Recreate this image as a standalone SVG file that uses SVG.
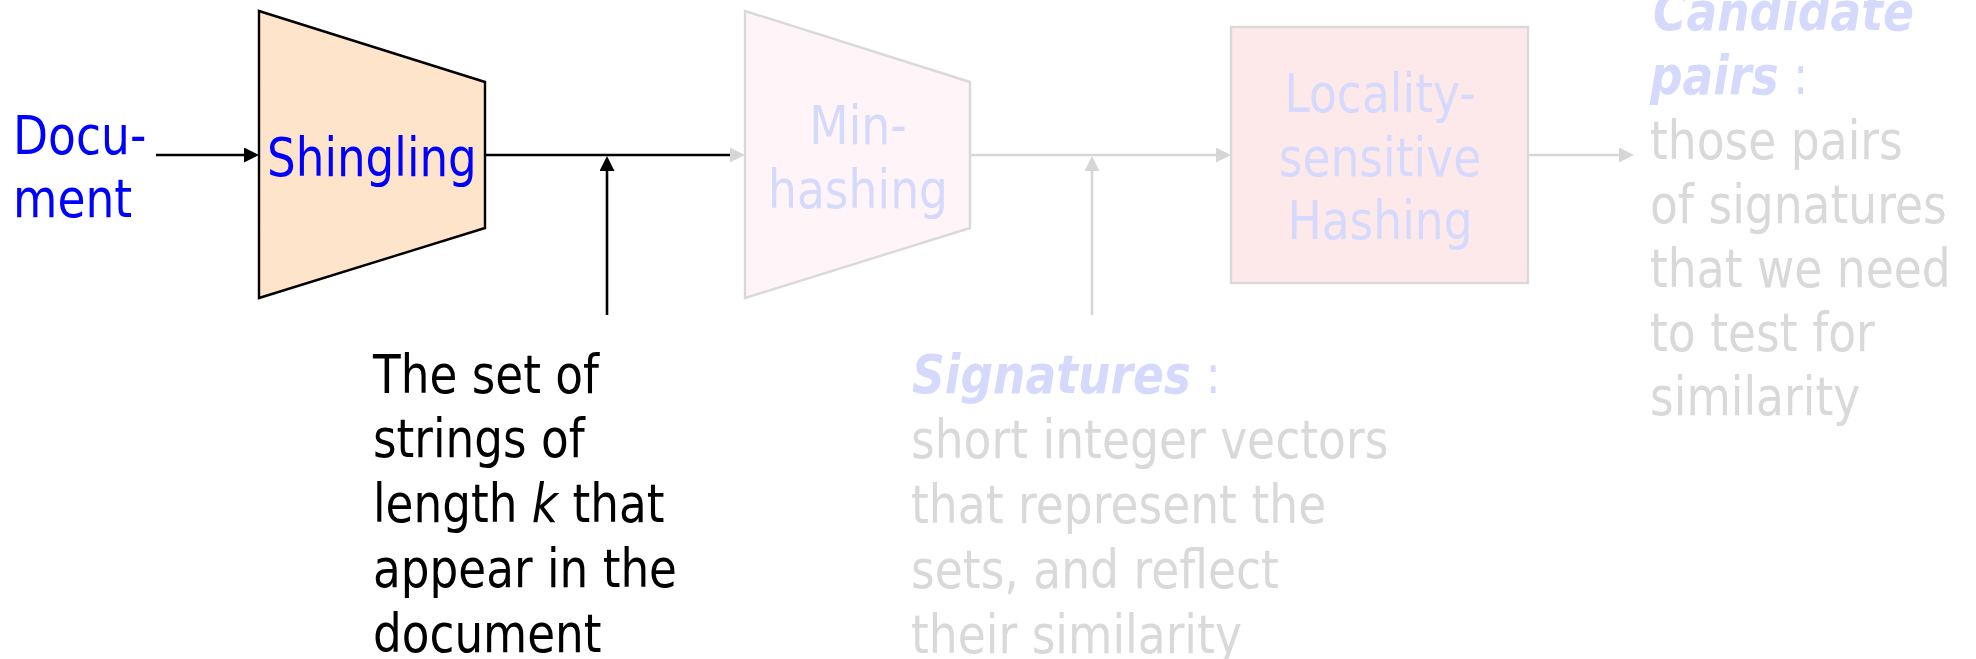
<svg xmlns="http://www.w3.org/2000/svg" width="1976" height="659" viewBox="0 0 1976 659">
  <style>
    text { font-family: "DejaVu Sans", Verdana, sans-serif; font-size: 53px; }
    .blue { fill: #0000ff; }
    .black { fill: #000000; }
    .lav { fill: #d5dafc; }
    .grey { fill: #d9d9d9; }
    .bi { font-weight: bold; font-style: italic; }
    .mid { text-anchor: middle; }
    .wire { fill: none; stroke-width: 2.6; }
    .wire-k { stroke: #000000; }
    .wire-g { stroke: #d6d6d6; }
  </style>
  <defs>
    <!-- arrowheads start where the line stops, tip 15px beyond -->
    <marker id="head-k" markerUnits="userSpaceOnUse" markerWidth="16" markerHeight="16" refX="0" refY="7.5" orient="auto">
      <path d="M0,0 L15,7.5 L0,15 Z" fill="#000000"/>
    </marker>
    <marker id="head-g" markerUnits="userSpaceOnUse" markerWidth="16" markerHeight="16" refX="0" refY="7.5" orient="auto">
      <path d="M0,0 L15,7.5 L0,15 Z" fill="#d6d6d6"/>
    </marker>
  </defs>

  <rect width="1976" height="659" fill="#ffffff"/>

  <!-- connectors -->
  <g id="connectors">
    <path class="wire wire-k" d="M156,155 H244" marker-end="url(#head-k)"/>
    <path class="wire wire-k" d="M485,155 H730" marker-end="url(#head-g)"/>
    <path class="wire wire-k" d="M607,315 V171" marker-end="url(#head-k)"/>
    <path class="wire wire-g" d="M970,155 H1216" marker-end="url(#head-g)"/>
    <path class="wire wire-g" d="M1092,315 V171" marker-end="url(#head-g)"/>
    <path class="wire wire-g" d="M1528,155 H1619" marker-end="url(#head-g)"/>
  </g>

  <!-- text lines are set in a slightly narrowed sans: translate(x,baseline) scale(0.86,1) -->

  <!-- input -->
  <g id="document">
    <text class="blue" transform="translate(13,154) scale(0.86,1)">Docu-</text>
    <text class="blue" transform="translate(13,217) scale(0.86,1)">ment</text>
  </g>

  <!-- stage 1 -->
  <g id="shingling">
    <polygon points="259,11 485,82 485,228 259,298" fill="#fee4ca" stroke="#000000" stroke-width="2.4"/>
    <text class="blue" transform="translate(267,176) scale(0.86,1)" textLength="244" lengthAdjust="spacingAndGlyphs">Shingling</text>
  </g>

  <!-- stage 2 -->
  <g id="minhashing">
    <polygon points="745,11 970,82 970,228 745,298" fill="#fff4f7" stroke="#d9d9d9" stroke-width="2.4"/>
    <text class="lav mid" transform="translate(858,144) scale(0.86,1)">Min-</text>
    <text class="lav mid" transform="translate(858,208) scale(0.86,1)">hashing</text>
  </g>

  <!-- stage 3 -->
  <g id="lsh">
    <rect x="1231" y="27" width="297" height="256" fill="#fde8ea" stroke="#d9d9d9" stroke-width="2.4"/>
    <text class="lav mid" transform="translate(1380,112) scale(0.86,1)">Locality-</text>
    <text class="lav mid" transform="translate(1380,176) scale(0.86,1)">sensitive</text>
    <text class="lav mid" transform="translate(1380,239) scale(0.86,1)">Hashing</text>
  </g>

  <!-- output -->
  <g id="candidates">
    <text class="lav bi" transform="translate(1653,30) scale(0.86,1)">Candidate</text>
    <text class="lav" transform="translate(1650,94) scale(0.86,1)"><tspan class="bi">pairs</tspan> :</text>
    <text class="grey" transform="translate(1650,159) scale(0.86,1)">those pairs</text>
    <text class="grey" transform="translate(1650,223) scale(0.86,1)">of signatures</text>
    <text class="grey" transform="translate(1650,287) scale(0.86,1)">that we need</text>
    <text class="grey" transform="translate(1650,351) scale(0.86,1)">to test for</text>
    <text class="grey" transform="translate(1650,415) scale(0.86,1)">similarity</text>
  </g>

  <!-- annotation under the shingling output -->
  <g id="shingles-note">
    <text class="black" transform="translate(373,393) scale(0.855,1)">The set of</text>
    <text class="black" transform="translate(373,457) scale(0.855,1)">strings of</text>
    <text class="black" transform="translate(373,522) scale(0.855,1)">length <tspan font-style="italic">k</tspan> that</text>
    <text class="black" transform="translate(373,587) scale(0.855,1)">appear in the</text>
    <text class="black" transform="translate(373,652) scale(0.855,1)">document</text>
  </g>

  <!-- annotation under the min-hashing output -->
  <g id="signatures-note">
    <text class="lav" transform="translate(912,393) scale(0.86,1)"><tspan class="bi">Signatures</tspan> :</text>
    <text class="grey" transform="translate(911,458) scale(0.86,1)">short integer vectors</text>
    <text class="grey" transform="translate(911,523) scale(0.86,1)">that represent the</text>
    <text class="grey" transform="translate(911,588) scale(0.86,1)">sets, and reflect</text>
    <text class="grey" transform="translate(911,653) scale(0.86,1)">their similarity</text>
  </g>
</svg>
